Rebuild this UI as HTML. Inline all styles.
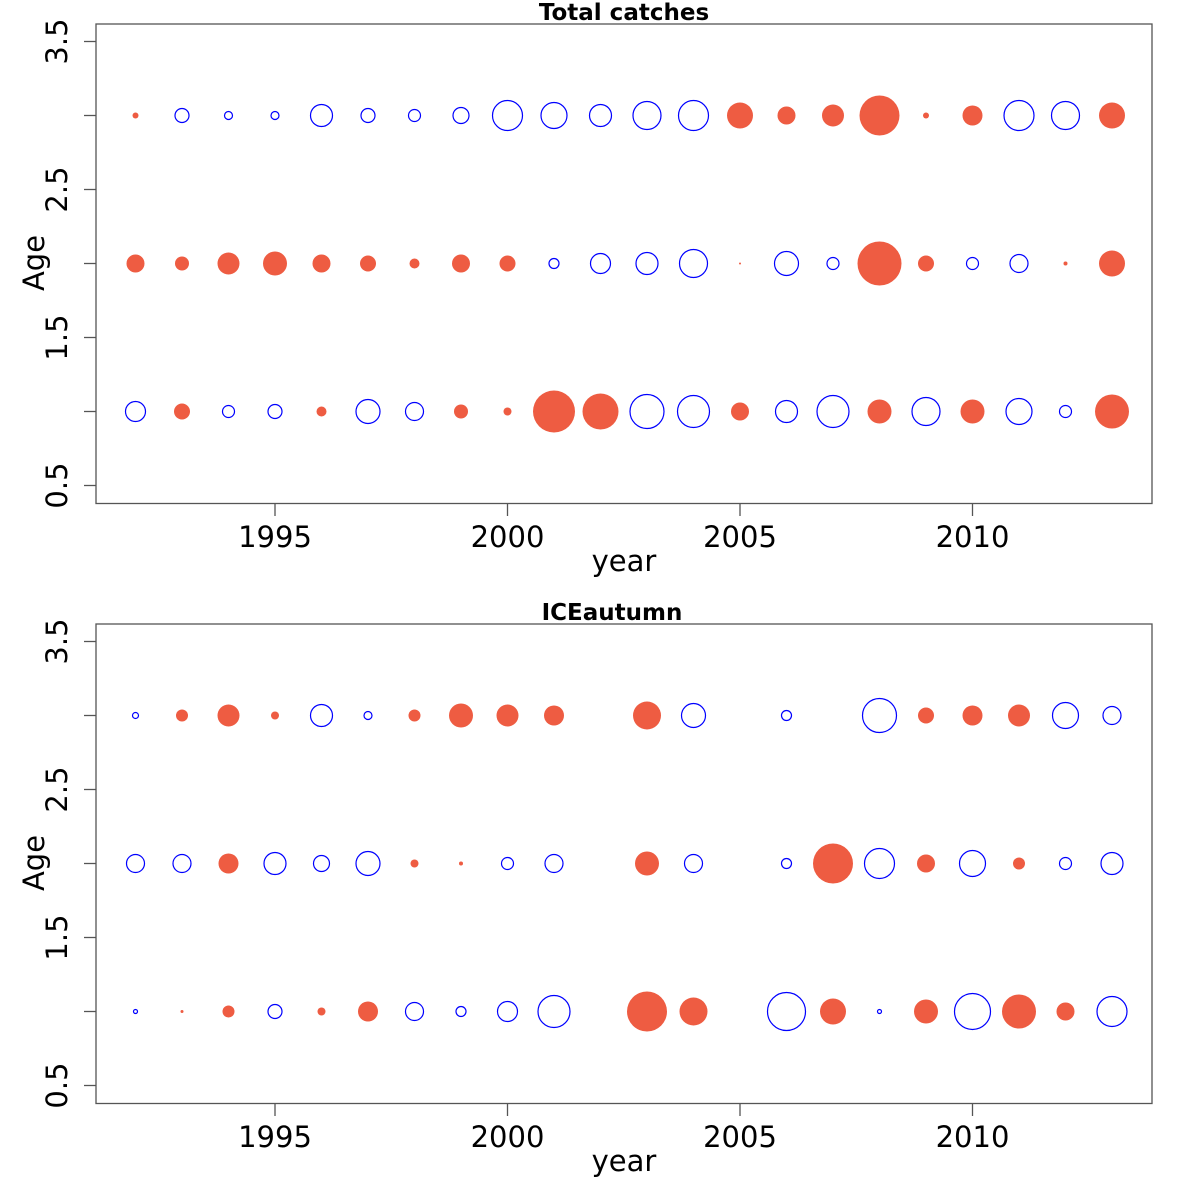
<!DOCTYPE html>
<html><head><meta charset="utf-8"><style>body{margin:0;background:#fff}svg{display:block}</style></head>
<body>
<svg id="s" width="1200" height="1200" xmlns="http://www.w3.org/2000/svg" font-family="'DejaVu Sans','Liberation Sans',sans-serif"></svg>
<script>
const s=document.getElementById('s');
let h='';
const X=y=>135.5+(y-1992)*46.5;
const F='#EE5C42';
const panels=[
{off:0,title:'Total catches',tx:624,d:{
3:'f3 o7 o4 o4 o11 o7 o6 o8 o15 o13 o11 o14 o15 f13 f9 f11 f20 f3 f10 o15 o14 f13',
2:'f9 f7 f11 f12 f9 f8 f5 f9 f8 o5 o10 o11 o14 f1 o12 o6 f22 f8 o6 o9 f2 f13',
1:'o10 f8 o6 o7 f5 o12 o9 f7 f4 f21 f18 o17 o16 f9 o11 o16 f12 o14 f12 o13 o6 f17'}},
{off:600,title:'ICEautumn',tx:612,d:{
3:'o3 f6 f11 f4 o11 o4 f6 f12 f11 f10 n f14 o12 n o5 n o17 f8 f10 f11 o13 o9',
2:'o9 o9 f10 o11 o8 o12 f4 f2 o6 o9 n f12 o9 n o5 f20 o15 f9 o13 f6 o6 o11',
1:'o2 f1.5 f6 o7 f4 f10 o9 o5 o10 o16 n f20 f14 n o19 f13 o2 f12 o18 f17 f9 o15'}}
];
for(const p of panels){
 const o=p.off;
 const Y=a=>115.5+(3-a)*148+o;
 h+=`<rect x="96" y="${24+o}" width="1056" height="479.5" fill="none" stroke="#555" stroke-width="1.3"/>`;
 h+=`<text x="${p.tx}" y="${20+o}" text-anchor="middle" font-weight="bold" font-size="23">${p.title}</text>`;
 for(const a of [0.5,1,1.5,2,2.5,3,3.5]){
  const y=Y(a);
  h+=`<line x1="84" x2="96" y1="${y}" y2="${y}" stroke="#555" stroke-width="1.3"/>`;
  if(a%1!==0)h+=`<text transform="translate(67,${y}) rotate(-90)" text-anchor="middle" font-size="29">${a.toFixed(1)}</text>`;
 }
 for(const yr of [1995,2000,2005,2010]){
  const x=X(yr);
  h+=`<line x1="${x}" x2="${x}" y1="${503.5+o}" y2="${516+o}" stroke="#555" stroke-width="1.3"/>`;
  h+=`<text x="${x}" y="${547+o}" text-anchor="middle" font-size="29">${yr}</text>`;
 }
 h+=`<text x="624" y="${571+o}" text-anchor="middle" font-size="29">year</text>`;
 h+=`<text transform="translate(44,${263+o}) rotate(-90)" text-anchor="middle" font-size="29">Age</text>`;
 for(const a of [1,2,3]){
  p.d[a].split(' ').forEach((t,i)=>{
   if(t==='n')return;
   const r=parseFloat(t.slice(1));
   const x=X(1992+i),y=Y(a);
   if(t[0]==='f')h+=`<circle cx="${x}" cy="${y}" r="${r}" fill="${F}"/>`;
   else h+=`<circle cx="${x}" cy="${y}" r="${r}" fill="none" stroke="#0000ff" stroke-width="1.2"/>`;
  });
 }
}
s.innerHTML=h;
</script>
</body></html>
